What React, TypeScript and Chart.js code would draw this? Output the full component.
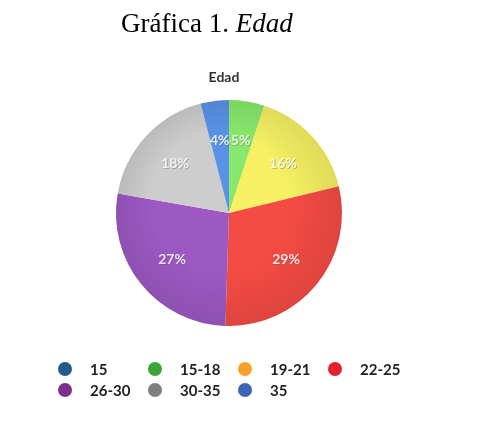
import { useEffect, useRef } from 'react';
import { Chart, registerables } from 'chart.js';

Chart.register(...registerables);

const categories = ['15', '15-18', '19-21', '22-25', '26-30', '30-35', '35'];
const percentages = [0, 5, 16, 29, 27, 18, 4];
const sliceColors = ['#2d5f95', '#88e86c', '#f6f062', '#f44b44', '#9c58c3', '#cdcdcd', '#5a92e6'];
const legendColors = ['#255a8c', '#3aa63a', '#f6a22a', '#e5202e', '#7d2f90', '#7f7f7f', '#3c66b2'];
const innerTitle = 'Edad';

const overlayPlugin = {
  id: 'overlay',
  afterDatasetsDraw(chart: any) {
    const ctx = chart.ctx;
    const meta = chart.getDatasetMeta(0);
    const first = meta.data.find((a: any) => a && a.outerRadius > 0);
    if (first) {
      const { x, y, outerRadius } = first.getProps(['x', 'y', 'outerRadius'], true);
      ctx.save();
      const g = ctx.createRadialGradient(x - 10, y - 10, outerRadius * 0.6, x, y, outerRadius);
      g.addColorStop(0, 'rgba(0,0,0,0)');
      g.addColorStop(1, 'rgba(0,0,0,0.09)');
      ctx.fillStyle = g;
      ctx.beginPath();
      ctx.arc(x, y, outerRadius, 0, Math.PI * 2);
      ctx.fill();
      ctx.restore();
    }
    // percentage labels
    ctx.save();
    ctx.font = 'bold 14px Lato, "DejaVu Sans", sans-serif';
    ctx.textAlign = 'center';
    ctx.textBaseline = 'middle';
    meta.data.forEach((arc: any, i: number) => {
      const v = percentages[i];
      if (!v) return;
      const p = arc.getProps(['x', 'y', 'startAngle', 'endAngle', 'outerRadius'], true);
      const mid = (p.startAngle + p.endAngle) / 2;
      const r = p.outerRadius * 0.65;
      const lx = p.x + Math.cos(mid) * r;
      const ly = p.y + Math.sin(mid) * r;
      ctx.fillStyle = 'rgba(90,90,90,0.35)';
      ctx.fillText(v + '%', lx + 1, ly + 1);
      ctx.fillStyle = 'rgba(255,255,255,0.82)';
      ctx.fillText(v + '%', lx, ly);
    });
    ctx.restore();
  },
  afterDraw(chart: any) {
    const ctx = chart.ctx;
    ctx.save();
    // inner title
    ctx.font = 'bold 14px Lato, "DejaVu Sans", sans-serif';
    ctx.fillStyle = '#333333';
    ctx.textAlign = 'center';
    ctx.textBaseline = 'middle';
    ctx.fillText(innerTitle, 224, 77);
    // legend grid
    ctx.font = 'bold 15px Lato, "DejaVu Sans", sans-serif';
    ctx.textAlign = 'left';
    categories.forEach((c, i) => {
      const col = i % 4;
      const row = Math.floor(i / 4);
      const cx = 65 + col * 90;
      const cy = 369 + row * 21;
      ctx.beginPath();
      ctx.arc(cx, cy, 7, 0, Math.PI * 2);
      ctx.fillStyle = legendColors[i];
      ctx.fill();
      ctx.fillStyle = '#222222';
      ctx.fillText(c, cx + 25, cy + 1);
    });
    ctx.restore();
  },
};

export default function App() {
  const ref = useRef<HTMLCanvasElement>(null);
  useEffect(() => {
    if (!ref.current) return;
    const chart = new Chart(ref.current, {
      type: 'pie',
      data: {
        labels: categories,
        datasets: [
          {
            data: percentages,
            backgroundColor: sliceColors,
            borderWidth: 0,
          },
        ],
      },
      options: {
        responsive: false,
        animation: false,
        layout: { padding: { left: 116, right: 140, top: 100, bottom: 104 } },
        plugins: {
          legend: { display: false },
          title: { display: false },
          tooltip: { enabled: false },
        },
      },
      plugins: [overlayPlugin],
    });
    return () => chart.destroy();
  }, []);
  return (
    <div style={{ position: 'fixed', left: 0, top: 0, width: 482, height: 430, background: '#ffffff', overflow: 'hidden' }}>
      <canvas ref={ref} width={482} height={430} style={{ position: 'absolute', left: 0, top: 0, width: 482, height: 430 }} />
      <div
        style={{
          position: 'absolute',
          left: 121,
          top: 8,
          fontFamily: '"Liberation Serif", "Times New Roman", serif',
          fontSize: 27,
          whiteSpace: 'nowrap',
          color: '#000',
        }}
      >
        Gráfica 1. <i>Edad</i>
      </div>
    </div>
  );
}
